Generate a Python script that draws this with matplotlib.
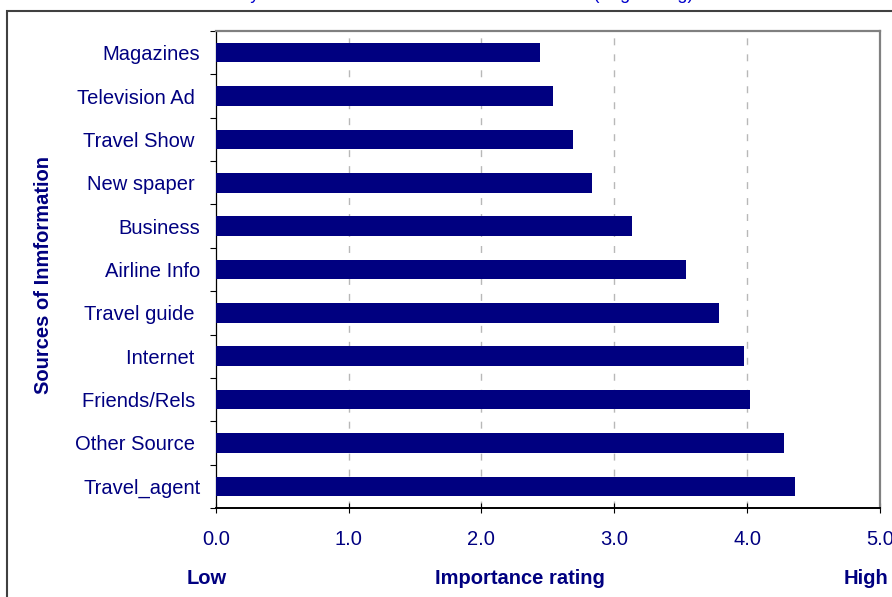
import numpy as np
import matplotlib
matplotlib.use('Agg')
import matplotlib.pyplot as plt
from matplotlib.patches import Rectangle
from matplotlib.ticker import FixedLocator

# 데이터 (위에서 아래 순서)
sources = ['Magazines', 'Television Ad ', 'Travel Show ', 'New spaper ', 'Business',
           'Airline Info', 'Travel guide ', 'Internet ', 'Friends/Rels ',
           'Other Source ', 'Travel_agent']
ratings = [2.44, 2.54, 2.69, 2.83, 3.13, 3.54, 3.79, 3.98, 4.02, 4.28, 4.36]
x_ticks = [0, 1, 2, 3, 4, 5]
x_labels = ['0.0', '1.0', '2.0', '3.0', '4.0', '5.0']

navy = '#000080'
plt.rcParams['font.family'] = ['Liberation Sans', 'DejaVu Sans']

fig = plt.figure(figsize=(8.92, 5.97), dpi=100)
ax = fig.add_axes([215.7 / 892, 1 - 508 / 597, (880 - 215.7) / 892, (508 - 31) / 597])

# 위에서부터 그리기 위해 역순 위치
pos = np.arange(len(sources))[::-1]
ax.barh(pos, ratings, height=0.45, color=navy, zorder=3)

ax.set_xlim(0, 5)
ax.set_ylim(-0.5, len(sources) - 0.5)

# 격자선
for x in x_ticks[1:-1]:
    ax.axvline(x, color='#b8b8b8', lw=1.0, linestyle=(0, (5, 6.5)), zorder=1)

ax.set_yticks(pos)
ax.set_yticklabels(sources, fontsize=14.5, color=navy)
ax.tick_params(axis='y', which='major', length=0, pad=11)
ax.yaxis.set_minor_locator(FixedLocator(np.arange(-0.5, len(sources), 1)))
ax.tick_params(axis='y', which='minor', length=4, width=0.8, direction='out', color='black')

ax.set_xticks(x_ticks)
ax.set_xticklabels(x_labels, fontsize=14.5, color=navy)
ax.tick_params(axis='x', length=7, width=0.8, direction='inout', pad=12, color='black')

# 테두리
ax.spines['top'].set_color('#808080')
ax.spines['right'].set_color('#808080')
ax.spines['top'].set_linewidth(1.6)
ax.spines['right'].set_linewidth(1.6)
ax.spines['left'].set_color('black')
ax.spines['bottom'].set_color('black')
ax.spines['left'].set_linewidth(0.9)
ax.spines['bottom'].set_linewidth(1.4)

# 축 제목
fig.text(43.5 / 892, 1 - 275 / 597, 'Sources of Inmformation', rotation=90,
         ha='center', va='center', fontsize=14.5, fontweight='bold', color=navy)
fig.text(207 / 892, 1 - 578 / 597, 'Low', ha='center', va='center',
         fontsize=14.5, fontweight='bold', color=navy)
fig.text(520 / 892, 1 - 578 / 597, 'Importance rating', ha='center', va='center',
         fontsize=14.5, fontweight='bold', color=navy)
fig.text(866 / 892, 1 - 578 / 597, 'High', ha='center', va='center',
         fontsize=14.5, fontweight='bold', color=navy)

# 잘린 제목 (위쪽 밖으로 나감)
fig.text(173 / 892, 1.0 + 1 / 597,
         'Ranked by Mean Score for each Information Source (Avg Rating)',
         ha='left', va='baseline', fontsize=13, color='#0000cc')

# 바깥 프레임
fig.patches.append(Rectangle((7 / 892, -0.1), 1.2, 1 - 11 / 597 + 0.1,
                             transform=fig.transFigure, fill=False,
                             edgecolor='#404040', lw=1.5))

fig.savefig('out.png', dpi=100)
